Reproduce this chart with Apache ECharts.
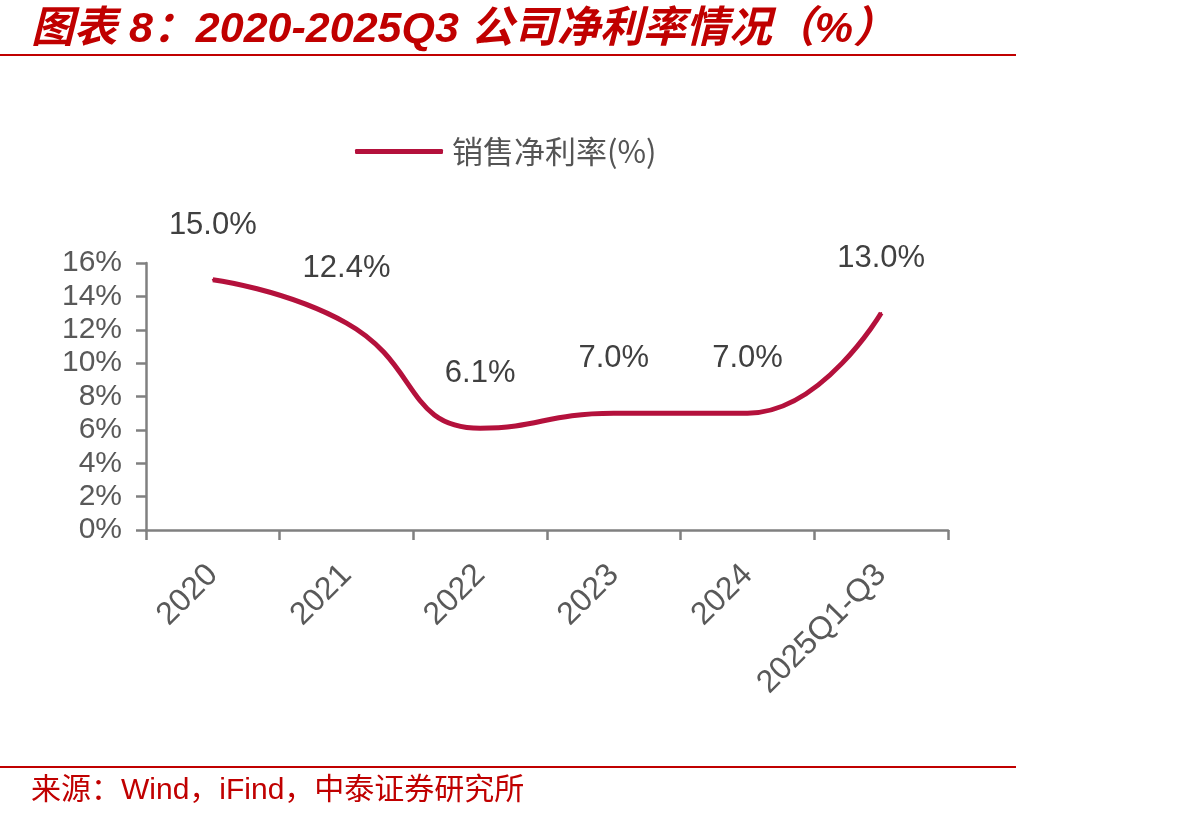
<!DOCTYPE html>
<html>
<head>
<meta charset="utf-8">
<script src="https://cdn.jsdelivr.net/npm/echarts@6/dist/echarts.min.js"></script>
<style>
  html, body { margin: 0; padding: 0; background: #fff; }
  #main { width: 1192px; height: 819px; }
</style>
</head>
<body>
<div id="main"></div>
<script>
// 数据
var categories = ['2020', '2021', '2022', '2023', '2024', '2025Q1-Q3'];
var netMargin = [15.0, 12.4, 6.1, 7.0, 7.0, 13.0];
var seriesName = '销售净利率(%)';
var titleText = '图表 8：2020-2025Q3 公司净利率情况（%）';
var sourceText = '来源：Wind，iFind，中泰证券研究所';

var red = '#c00000';
var lineColor = '#b4113c';
var axisColor = '#808080';
var labelColor = '#595959';
var font = 'Liberation Sans, Arial, Noto Sans CJK SC, sans-serif';

var myChart = echarts.init(document.getElementById('main'));
myChart.setOption({
  animation: false,
  title: [
    {
      text: titleText,
      left: 26,
      top: 4,
      textStyle: {
        color: red,
        fontSize: 43,
        fontStyle: 'italic',
        fontWeight: 'bold',
        fontFamily: 'Liberation Sans, Noto Sans CJK SC, sans-serif'
      }
    },
    {
      text: sourceText,
      left: 26,
      top: 771,
      textStyle: {
        color: red,
        fontSize: 30,
        fontWeight: 'normal',
        fontFamily: 'Liberation Sans, Noto Sans CJK SC, sans-serif'
      }
    }
  ],
  graphic: [
    { type: 'line', shape: { x1: 0, y1: 55, x2: 1016, y2: 55 }, style: { stroke: red, lineWidth: 2 } },
    { type: 'line', shape: { x1: 0, y1: 767, x2: 1016, y2: 767 }, style: { stroke: red, lineWidth: 2 } }
  ],
  legend: {
    left: 350,
    top: 131,
    itemWidth: 88,
    itemHeight: 5,
    itemGap: 10,
    icon: 'roundRect',
    itemStyle: { color: lineColor, opacity: 1 },
    textStyle: { color: '#555', fontSize: 31, padding: [0, 0, 0, 4], fontFamily: 'Noto Sans CJK SC, serif' },
    data: [seriesName]
  },
  grid: { left: 146, right: 244, top: 263, bottom: 289 },
  xAxis: {
    type: 'category',
    data: categories,
    boundaryGap: true,
    axisLine: { lineStyle: { color: axisColor, width: 2.5 } },
    axisTick: { show: true, length: 10, lineStyle: { color: axisColor, width: 2.5 } },
    axisLabel: {
      rotate: 45,
      margin: 40,
      color: labelColor,
      fontSize: 32,
      fontFamily: font
    }
  },
  yAxis: {
    type: 'value',
    min: 0,
    max: 16,
    interval: 2,
    splitLine: { show: false },
    axisLine: { show: true, lineStyle: { color: axisColor, width: 2.5 } },
    axisTick: { show: true, length: 10, lineStyle: { color: axisColor, width: 2.5 } },
    axisLabel: {
      formatter: '{value}%',
      margin: 24,
      color: labelColor,
      fontSize: 30,
      fontFamily: font
    }
  },
  series: [
    {
      name: seriesName,
      type: 'line',
      data: netMargin,
      smooth: true,
      symbol: 'circle',
      symbolSize: 2,
      showSymbol: true,
      lineStyle: { color: lineColor, width: 5 },
      itemStyle: { color: lineColor },
      label: {
        show: true,
        position: 'top',
        distance: 38,
        formatter: function (p) { return p.value.toFixed(1) + '%'; },
        color: '#404040',
        fontSize: 31,
        fontFamily: font
      }
    }
  ]
});
</script>
</body>
</html>
